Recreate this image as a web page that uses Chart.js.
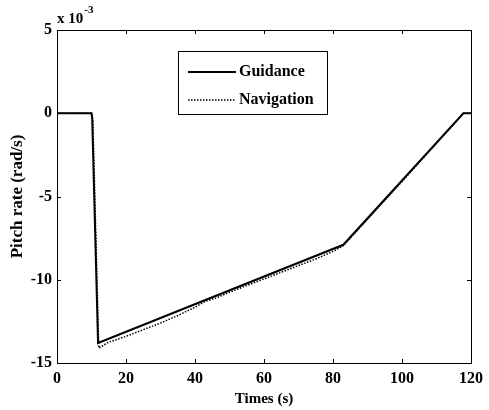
<!DOCTYPE html>
<html>
<head>
<meta charset="utf-8">
<script src="https://cdn.jsdelivr.net/npm/chart.js@4"></script>
<style>
html,body{margin:0;padding:0;background:#fff;}
#wrap{width:489px;height:410px;position:relative;}
</style>
</head>
<body>
<div id="wrap"><canvas id="c" width="489" height="410"></canvas></div>
<script>
// Time axis (s) and pitch rate values in units of 10^-3 rad/s
const guidanceX = [0, 10, 10.2, 11.9, 83, 117.8, 120];
const guidanceY = [0, 0, -0.3, -13.8, -7.9, 0, 0];
const navigationX = [0, 10, 10.4, 12.1, 15, 20, 25, 30, 35, 40, 43, 46, 50, 55, 60, 65, 70, 75, 80, 83, 100, 117.8, 120];
const navigationY = [0, 0, -0.4, -14.1, -13.75, -13.4, -13.0, -12.6, -12.15, -11.65, -11.3, -11.1, -10.75, -10.35, -9.95, -9.55, -9.15, -8.75, -8.3, -7.95, -4.1, 0, 0];
const xTicks = [0, 20, 40, 60, 80, 100, 120];
const yTicks = [-15, -10, -5, 0, 5];
const seriesNames = ['Guidance', 'Navigation'];

const FONT = '"Liberation Serif", "Times New Roman", serif';

function toPts(xs, ys){ return xs.map((x,i)=>({x:x, y:ys[i]})); }

const framePlugin = {
  id: 'frame',
  afterDraw(chart){
    const ctx = chart.ctx, a = chart.chartArea;
    const xs = chart.scales.x, ys = chart.scales.y;
    ctx.save();
    ctx.strokeStyle = '#000';
    ctx.lineWidth = 1;
    ctx.strokeRect(Math.round(a.left)+0.5, Math.round(a.top)+0.5, Math.round(a.right-a.left), Math.round(a.bottom-a.top));
    const tl = 4;
    ctx.beginPath();
    xTicks.forEach(v=>{
      const px = Math.round(xs.getPixelForValue(v))+0.5;
      ctx.moveTo(px, a.bottom); ctx.lineTo(px, a.bottom - tl);
      ctx.moveTo(px, a.top); ctx.lineTo(px, a.top + tl);
    });
    yTicks.forEach(v=>{
      const py = Math.round(ys.getPixelForValue(v))+0.5;
      ctx.moveTo(a.left, py); ctx.lineTo(a.left + tl, py);
      ctx.moveTo(a.right, py); ctx.lineTo(a.right - tl, py);
    });
    ctx.stroke();
    // exponent label
    ctx.fillStyle = '#000';
    ctx.textBaseline = 'alphabetic';
    ctx.textAlign = 'left';
    ctx.font = 'bold 15px ' + FONT;
    ctx.fillText('x 10', a.left, 23);
    const w = ctx.measureText('x 10').width;
    ctx.font = 'bold 11px ' + FONT;
    ctx.fillText('-3', a.left + w + 1, 13);
    // legend
    const bx = 178, by = 51, bw = 149, bh = 63;
    ctx.fillStyle = '#fff';
    ctx.fillRect(bx, by, bw, bh);
    ctx.strokeStyle = '#000';
    ctx.lineWidth = 1;
    ctx.strokeRect(bx+0.5, by+0.5, bw, bh);
    const rows = [72, 100];
    chart.data.datasets.forEach((ds, i)=>{
      ctx.beginPath();
      ctx.lineWidth = ds.borderWidth;
      ctx.setLineDash(ds.borderDash || []);
      ctx.moveTo(188, rows[i]); ctx.lineTo(236, rows[i]);
      ctx.stroke();
      ctx.setLineDash([]);
      ctx.fillStyle = '#000';
      ctx.font = 'bold 16px ' + FONT;
      ctx.textBaseline = 'middle';
      ctx.fillText(seriesNames[i], 239, rows[i]);
    });
    ctx.restore();
  }
};

new Chart(document.getElementById('c'), {
  type: 'scatter',
  data: {
    datasets: [
      { label: seriesNames[0], data: toPts(guidanceX, guidanceY), showLine: true, borderColor: '#000', borderWidth: 2, pointRadius: 0, tension: 0 },
      { label: seriesNames[1], data: toPts(navigationX, navigationY), showLine: true, borderColor: '#000', borderWidth: 1.5, borderDash: [1.5, 1.5], pointRadius: 0, tension: 0 }
    ]
  },
  options: {
    responsive: false,
    animation: false,
    devicePixelRatio: 1,
    layout: { padding: { left: 0, top: 30, right: 13, bottom: 0 } },
    plugins: { legend: { display: false }, tooltip: { enabled: false } },
    scales: {
      x: {
        type: 'linear', min: 0, max: 120,
        grid: { display: false, drawTicks: false },
        border: { display: false },
        afterBuildTicks(s){ s.ticks = xTicks.map(v=>({value:v})); },
        afterFit(s){ s.height = 47; },
        ticks: { color: '#000', font: { family: FONT, size: 16, weight: 'bold' }, padding: 6, maxRotation: 0, autoSkip: false },
        title: { display: true, text: 'Times (s)', color: '#000', font: { family: FONT, size: 15, weight: 'bold' }, padding: { top: 0, bottom: 2 } }
      },
      y: {
        type: 'linear', min: -15, max: 5,
        grid: { display: false, drawTicks: false },
        border: { display: false },
        afterBuildTicks(s){ s.ticks = yTicks.map(v=>({value:v})); },
        afterFit(s){ s.width = 57; },
        ticks: { color: '#000', font: { family: FONT, size: 16, weight: 'bold' }, padding: 5, autoSkip: false },
        title: { display: true, text: 'Pitch rate (rad/s)', color: '#000', font: { family: FONT, size: 17, weight: 'bold' }, padding: { top: 7, bottom: 0 } }
      }
    }
  },
  plugins: [framePlugin]
});
</script>
</body>
</html>
